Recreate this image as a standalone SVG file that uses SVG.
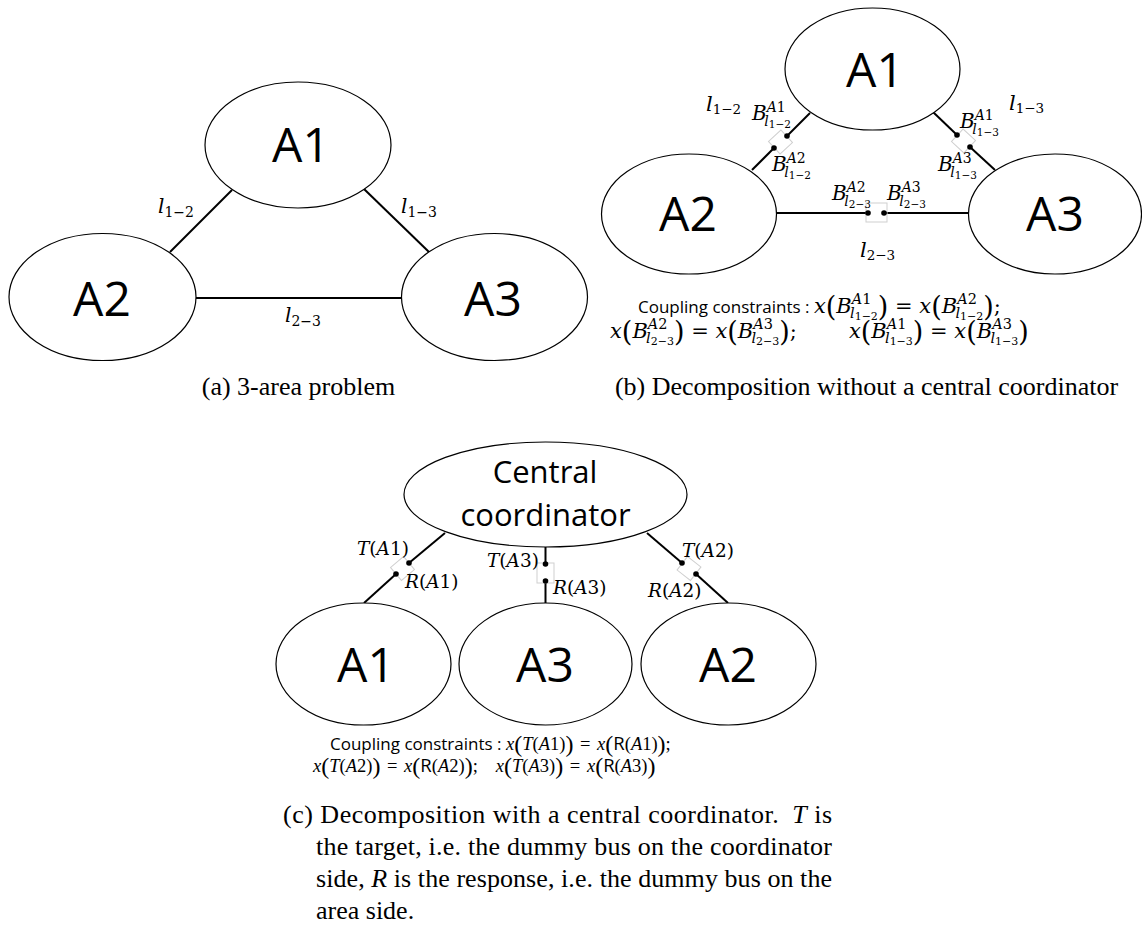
<svg xmlns="http://www.w3.org/2000/svg" width="1142" height="947" viewBox="0 0 1142 947">
<style>
.el{fill:#fff;stroke:#000;stroke-width:1.2}
.ln{stroke:#000;stroke-width:2;fill:none}
.dot{fill:#000}
.dm{fill:none;stroke:#cfcfcf;stroke-width:1}
.nm{font-family:"Open Sans","Noto Sans",sans-serif;font-size:48px;text-anchor:middle;fill:#000}
.cc{font-family:"Open Sans","Noto Sans",sans-serif;font-size:31px;text-anchor:middle;fill:#000}
.m{font-family:"DejaVu Serif",serif;font-style:normal;fill:#000}
.tm{font-family:"Liberation Serif","Times New Roman",serif;font-style:normal;fill:#000}
.i{font-style:italic}
.sf{font-family:"Open Sans","Noto Sans",sans-serif;font-style:normal}
.cap{font-family:"Liberation Serif","Times New Roman",serif;font-size:26px;fill:#000}
.lb{font-size:20px}
.sp{font-size:14px}
.ss{font-size:10.5px}
</style>
<rect width="1142" height="947" fill="#fff"/>

<!-- connectors -->
<g id="connectors">
  <!-- (a) three-area lines -->
  <line class="ln" x1="232" y1="190" x2="170" y2="252"/>
  <line class="ln" x1="364" y1="189" x2="429" y2="252"/>
  <line class="ln" x1="196" y1="298" x2="401" y2="298"/>
  <!-- (b) split lines with dummy buses -->
  <line class="ln" x1="810" y1="113" x2="787" y2="136"/>
  <line class="ln" x1="774" y1="148" x2="752" y2="170"/>
  <line class="ln" x1="933" y1="112" x2="957" y2="135"/>
  <line class="ln" x1="970" y1="147" x2="995" y2="170"/>
  <line class="ln" x1="776" y1="213" x2="868" y2="213"/>
  <line class="ln" x1="884" y1="213" x2="969" y2="213"/>
  <rect class="dm" x="-8.5" y="-8.5" width="17" height="17" transform="translate(780.5 142) rotate(47)"/>
  <rect class="dm" x="-8.5" y="-8.5" width="17" height="17" transform="translate(963.5 141) rotate(43)"/>
  <rect class="dm" x="866" y="203" width="21" height="19"/>
  <circle class="dot" cx="787" cy="136" r="2.8"/>
  <circle class="dot" cx="774" cy="148" r="2.8"/>
  <circle class="dot" cx="957" cy="135" r="2.8"/>
  <circle class="dot" cx="970" cy="147" r="2.8"/>
  <circle class="dot" cx="868" cy="213" r="2.8"/>
  <circle class="dot" cx="884" cy="213" r="2.8"/>
  <!-- (c) coordinator links -->
  <line class="ln" x1="445" y1="533" x2="409" y2="563"/>
  <line class="ln" x1="396" y1="574" x2="364" y2="603"/>
  <line class="ln" x1="545.5" y1="547" x2="545.5" y2="564"/>
  <line class="ln" x1="545.5" y1="581" x2="545.5" y2="603"/>
  <line class="ln" x1="647" y1="533" x2="682" y2="563"/>
  <line class="ln" x1="696" y1="574" x2="728" y2="603"/>
  <rect class="dm" x="-8.5" y="-8.5" width="17" height="17" transform="translate(402.5 568.5) rotate(50)"/>
  <rect class="dm" x="-8.5" y="-8.5" width="17" height="17" transform="translate(689 568.5) rotate(38)"/>
  <rect class="dm" x="537" y="563" width="17" height="20"/>
  <circle class="dot" cx="409" cy="563" r="2.8"/>
  <circle class="dot" cx="396" cy="574" r="2.8"/>
  <circle class="dot" cx="545.5" cy="564" r="2.8"/>
  <circle class="dot" cx="545.5" cy="581" r="2.8"/>
  <circle class="dot" cx="682" cy="563" r="2.8"/>
  <circle class="dot" cx="696" cy="574" r="2.8"/>
</g>

<!-- (a) 3-area problem -->
<g id="a-A1"><ellipse class="el" cx="298" cy="145" rx="93" ry="63"/><text class="nm" x="301" y="162">A1</text></g>
<g id="a-A2"><ellipse class="el" cx="102.5" cy="297" rx="93.5" ry="63.5"/><text class="nm" x="102" y="316">A2</text></g>
<g id="a-A3"><ellipse class="el" cx="494.5" cy="297" rx="93" ry="63.5"/><text class="nm" x="493" y="316">A3</text></g>

<!-- (b) decomposition without coordinator -->
<g id="b-A1"><ellipse class="el" cx="872.5" cy="69" rx="87.5" ry="61"/><text class="nm" x="875" y="87">A1</text></g>
<g id="b-A2"><ellipse class="el" cx="689" cy="214" rx="87.5" ry="60"/><text class="nm" x="688" y="231">A2</text></g>
<g id="b-A3"><ellipse class="el" cx="1055" cy="214" rx="86.5" ry="60"/><text class="nm" x="1055" y="231">A3</text></g>

<!-- (c) decomposition with coordinator -->
<g id="c-CC"><ellipse class="el" cx="545.5" cy="494.5" rx="141.5" ry="52.5"/><text class="cc" x="545" y="483">Central</text><text class="cc" x="545.5" y="526">coordinator</text></g>
<g id="c-A1"><ellipse class="el" cx="363.5" cy="664" rx="87.5" ry="61"/><text class="nm" x="366" y="682">A1</text></g>
<g id="c-A3"><ellipse class="el" cx="545.5" cy="664" rx="86.5" ry="61"/><text class="nm" x="545" y="682">A3</text></g>
<g id="c-A2"><ellipse class="el" cx="728.5" cy="664" rx="87.5" ry="61"/><text class="nm" x="728" y="682">A2</text></g>

<!-- line and bus labels -->
<g id="labels" class="m">
  <text x="158" y="213" font-size="20"><tspan class="i">l</tspan><tspan font-size="14" dy="4">1−2</tspan></text>
  <text x="401" y="213" font-size="20"><tspan class="i">l</tspan><tspan font-size="14" dy="4">1−3</tspan></text>
  <text x="285" y="322" font-size="20"><tspan class="i">l</tspan><tspan font-size="14" dy="4">2−3</tspan></text>

  <text x="706" y="111" font-size="21"><tspan class="i">l</tspan><tspan font-size="13.5" dy="3">1−2</tspan></text>
  <text x="1009" y="110" font-size="21"><tspan class="i">l</tspan><tspan font-size="13.5" dy="3">1−3</tspan></text>
  <text x="860" y="257" font-size="21"><tspan class="i">l</tspan><tspan font-size="13.5" dy="3">2−3</tspan></text>

  <text class="lb" x="752" y="120"><tspan class="i">B</tspan><tspan class="sp" dy="-8.5"><tspan class="i">A</tspan>1</tspan><tspan class="sp i" dx="-21.5" dy="14">l</tspan><tspan class="ss" dy="2">1−2</tspan></text>
  <text class="lb" x="772" y="171"><tspan class="i">B</tspan><tspan class="sp" dy="-8.5"><tspan class="i">A</tspan>2</tspan><tspan class="sp i" dx="-21.5" dy="14">l</tspan><tspan class="ss" dy="2">1−2</tspan></text>
  <text class="lb" x="960" y="128"><tspan class="i">B</tspan><tspan class="sp" dy="-8.5"><tspan class="i">A</tspan>1</tspan><tspan class="sp i" dx="-21.5" dy="14">l</tspan><tspan class="ss" dy="2">1−3</tspan></text>
  <text class="lb" x="938" y="171"><tspan class="i">B</tspan><tspan class="sp" dy="-8.5"><tspan class="i">A</tspan>3</tspan><tspan class="sp i" dx="-21.5" dy="14">l</tspan><tspan class="ss" dy="2">1−3</tspan></text>
  <text class="lb" x="832" y="200"><tspan class="i">B</tspan><tspan class="sp" dy="-8.5"><tspan class="i">A</tspan>2</tspan><tspan class="sp i" dx="-21.5" dy="14">l</tspan><tspan class="ss" dy="2">2−3</tspan></text>
  <text class="lb" x="887" y="200"><tspan class="i">B</tspan><tspan class="sp" dy="-8.5"><tspan class="i">A</tspan>3</tspan><tspan class="sp i" dx="-21.5" dy="14">l</tspan><tspan class="ss" dy="2">2−3</tspan></text>

  <text x="357" y="555" font-size="18.5"><tspan class="i">T</tspan>(<tspan class="i">A</tspan>1)</text>
  <text x="487" y="567" font-size="18.5"><tspan class="i">T</tspan>(<tspan class="i">A</tspan>3)</text>
  <text x="682" y="557" font-size="18.5"><tspan class="i">T</tspan>(<tspan class="i">A</tspan>2)</text>
  <text x="405" y="588" font-size="18.5"><tspan class="i">R</tspan>(<tspan class="i">A</tspan>1)</text>
  <text x="553" y="594" font-size="18.5"><tspan class="i">R</tspan>(<tspan class="i">A</tspan>3)</text>
  <text x="648" y="597" font-size="18.5"><tspan class="i">R</tspan>(<tspan class="i">A</tspan>2)</text>
</g>

<!-- coupling constraints (b) -->
<g id="b-coupling" class="m">
  <text x="638" y="313" font-size="21"><tspan class="sf" font-size="17">Coupling constraints : </tspan><tspan class="i">x</tspan><tspan font-size="27" dy="3">(</tspan><tspan class="i" dy="-3">B</tspan><tspan font-size="14.5" dy="-9"><tspan class="i">A</tspan>1</tspan><tspan class="i" font-size="14.5" dx="-21.5" dy="14">l</tspan><tspan font-size="11" dy="2">1−2</tspan><tspan font-size="27" dy="-4">)</tspan><tspan dy="-3"> = </tspan><tspan class="i">x</tspan><tspan font-size="27" dy="3">(</tspan><tspan class="i" dy="-3">B</tspan><tspan font-size="14.5" dy="-9"><tspan class="i">A</tspan>2</tspan><tspan class="i" font-size="14.5" dx="-21.5" dy="14">l</tspan><tspan font-size="11" dy="2">1−2</tspan><tspan font-size="27" dy="-4">)</tspan><tspan dy="-3">;</tspan></text>
  <text x="610" y="338" font-size="21"><tspan class="i">x</tspan><tspan font-size="27" dy="3">(</tspan><tspan class="i" dy="-3">B</tspan><tspan font-size="14.5" dy="-9"><tspan class="i">A</tspan>2</tspan><tspan class="i" font-size="14.5" dx="-21.5" dy="14">l</tspan><tspan font-size="11" dy="2">2−3</tspan><tspan font-size="27" dy="-4">)</tspan><tspan dy="-3"> = </tspan><tspan class="i">x</tspan><tspan font-size="27" dy="3">(</tspan><tspan class="i" dy="-3">B</tspan><tspan font-size="14.5" dy="-9"><tspan class="i">A</tspan>3</tspan><tspan class="i" font-size="14.5" dx="-21.5" dy="14">l</tspan><tspan font-size="11" dy="2">2−3</tspan><tspan font-size="27" dy="-4">)</tspan><tspan dy="-3">;</tspan><tspan class="i" dx="52">x</tspan><tspan font-size="27" dy="3">(</tspan><tspan class="i" dy="-3">B</tspan><tspan font-size="14.5" dy="-9"><tspan class="i">A</tspan>1</tspan><tspan class="i" font-size="14.5" dx="-21.5" dy="14">l</tspan><tspan font-size="11" dy="2">1−3</tspan><tspan font-size="27" dy="-4">)</tspan><tspan dy="-3"> = </tspan><tspan class="i">x</tspan><tspan font-size="27" dy="3">(</tspan><tspan class="i" dy="-3">B</tspan><tspan font-size="14.5" dy="-9"><tspan class="i">A</tspan>3</tspan><tspan class="i" font-size="14.5" dx="-21.5" dy="14">l</tspan><tspan font-size="11" dy="2">1−3</tspan><tspan font-size="27" dy="-4">)</tspan></text>
</g>

<!-- coupling constraints (c) -->
<g id="c-coupling" class="tm">
  <text x="330" y="750" font-size="18.5"><tspan class="sf" font-size="17">Coupling constraints : </tspan><tspan class="i">x</tspan><tspan font-size="24" dy="2">(</tspan><tspan class="i" dy="-2">T</tspan>(<tspan class="i">A</tspan>1)<tspan font-size="24" dy="2">)</tspan><tspan dy="-2" dx="2"> = </tspan><tspan class="i" dx="2">x</tspan><tspan font-size="24" dy="2">(</tspan><tspan class="sf" dy="-2">R</tspan>(<tspan class="i">A</tspan>1)<tspan font-size="24" dy="2">)</tspan><tspan dy="-2">;</tspan></text>
  <text x="313" y="772" font-size="18.5"><tspan class="i">x</tspan><tspan font-size="24" dy="2">(</tspan><tspan class="i" dy="-2">T</tspan>(<tspan class="i">A</tspan>2)<tspan font-size="24" dy="2">)</tspan><tspan dy="-2" dx="2"> = </tspan><tspan class="i" dx="2">x</tspan><tspan font-size="24" dy="2">(</tspan><tspan class="sf" dy="-2">R</tspan>(<tspan class="i">A</tspan>2)<tspan font-size="24" dy="2">)</tspan><tspan dy="-2">;</tspan><tspan class="i" dx="18">x</tspan><tspan font-size="24" dy="2">(</tspan><tspan class="i" dy="-2">T</tspan>(<tspan class="i">A</tspan>3)<tspan font-size="24" dy="2">)</tspan><tspan dy="-2" dx="2"> = </tspan><tspan class="i" dx="2">x</tspan><tspan font-size="24" dy="2">(</tspan><tspan class="sf" dy="-2">R</tspan>(<tspan class="i">A</tspan>3)<tspan font-size="24" dy="2">)</tspan></text>
</g>

<!-- captions -->
<g id="captions" class="cap">
  <text x="298.5" y="395" text-anchor="middle">(a) 3-area problem</text>
  <text x="866.5" y="395" text-anchor="middle">(b) Decomposition without a central coordinator</text>
  <text x="283" y="823" textLength="549" lengthAdjust="spacing">(c) Decomposition with a central coordinator. <tspan class="i" dx="6">T</tspan> is</text>
  <text x="316" y="855" textLength="516" lengthAdjust="spacing">the target, i.e. the dummy bus on the coordinator</text>
  <text x="316" y="887" textLength="516" lengthAdjust="spacing">side, <tspan class="i">R</tspan> is the response, i.e. the dummy bus on the</text>
  <text x="316" y="919">area side.</text>
</g>
</svg>
